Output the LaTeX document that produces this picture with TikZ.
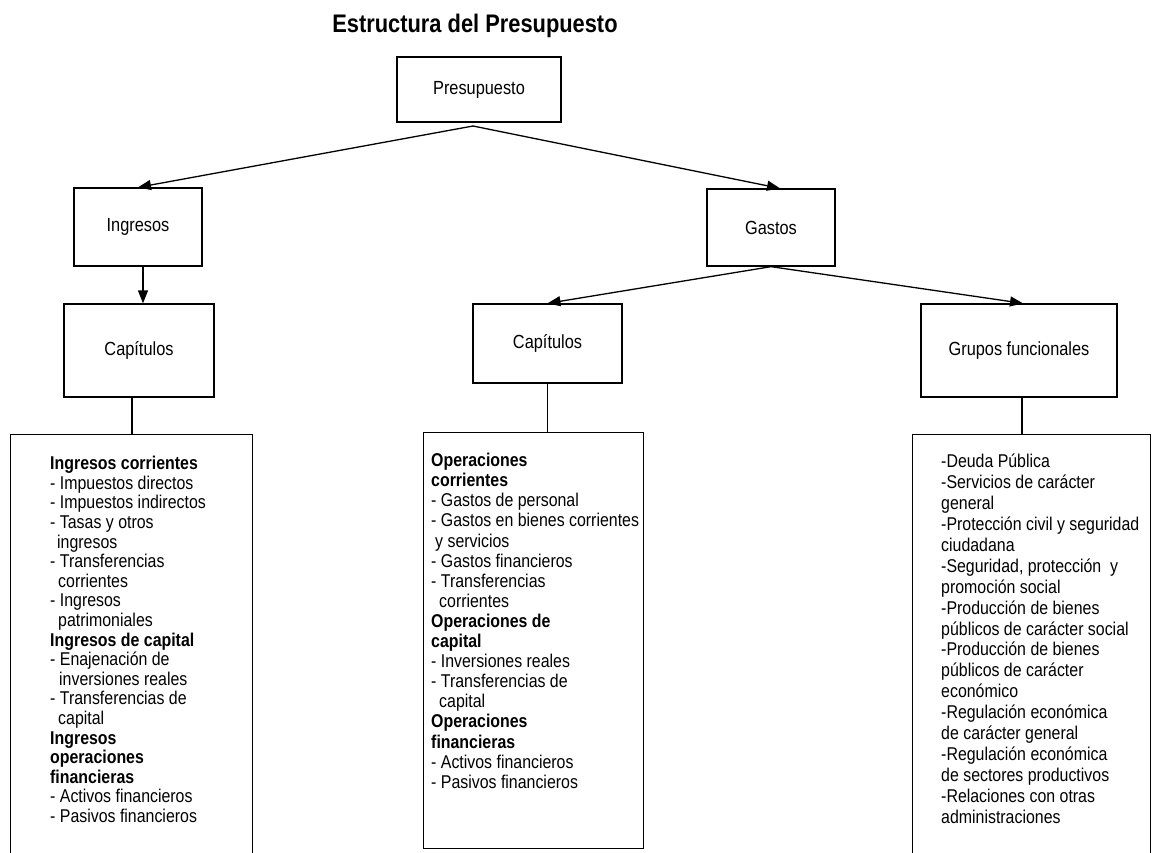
\documentclass[tikz,border=0pt]{standalone}
\usepackage{fontspec}
\setmainfont[FakeStretch=0.86]{Liberation Sans}
\usetikzlibrary{arrows.meta}
\begin{document}
\begin{tikzpicture}[x=1pt,y=-1pt,
  bx/.style={draw, line width=1.3pt, inner sep=0pt, font=\fontsize{19}{22}\selectfont},
  conn/.style={line width=1.3pt},
  arr/.style={conn, -{Triangle[length=13pt,width=10pt]}},
  lstbox/.style={draw, line width=1.3pt, anchor=north west, inner sep=0pt},
  lst/.style={anchor=north west, inner sep=0pt, align=left}]
\useasboundingbox (0,0) rectangle (1158,852);

\node[anchor=base, font=\fontsize{25.4}{29}\bfseries\selectfont] (title) at (475,32) {Estructura del Presupuesto};

\node[bx, minimum width=164pt, minimum height=65pt] (pres) at (479,89.5) {Presupuesto};
\node[bx, minimum width=128pt, minimum height=78pt] (ing) at (138,227) {Ingresos};
\node[bx, minimum width=128pt, minimum height=77pt] (gas) at (771,227.5) {Gastos};
\node[bx, minimum width=150pt, minimum height=93pt] (cap1) at (139,350.5) {Capítulos};
\node[bx, minimum width=149pt, minimum height=79pt] (cap2) at (547.5,343.5) {Capítulos};
\node[bx, minimum width=196pt, minimum height=93pt] (grp) at (1019,350.5) {Grupos funcionales};

\node[lstbox, minimum width=242pt, minimum height=470pt] (b1) at (10,434) {};
\node[lstbox, minimum width=220pt, minimum height=416pt] (b2) at (423,432) {};
\node[lstbox, minimum width=238pt, minimum height=470pt] (b3) at (912,434) {};

\coordinate (p0) at (473,126);
\draw[arr] (p0) -- (ing.north);
\draw[arr] (p0) -- ([xshift=9pt]gas.north);
\draw[arr] ([xshift=5pt]ing.south) -- ([xshift=5pt]ing.south |- cap1.north);
\draw[arr] (gas.south) -- (cap2.north);
\draw[arr] (gas.south) -- ([xshift=4pt]grp.north);
\draw[conn] ([xshift=-7pt]cap1.south) -- ([xshift=-7pt]cap1.south |- b1.north);
\draw[conn] (cap2.south) -- (cap2.south |- b2.north);
\draw[conn] ([xshift=3pt]grp.south) -- ([xshift=3pt]grp.south |- b3.north);

\node[lst, font=\fontsize{18.5}{19.6}\selectfont] (t1) at (50,456) {%
\textbf{Ingresos corrientes}\\
- Impuestos directos\\
- Impuestos indirectos\\
- Tasas y otros\\
\hspace*{7pt}ingresos\\
- Transferencias\\
\hspace*{8pt}corrientes\\
- Ingresos\\
\hspace*{8pt}patrimoniales\\
\textbf{Ingresos de capital}\\
- Enajenación de\\
\hspace*{9pt}inversiones reales\\
- Transferencias de\\
\hspace*{8pt}capital\\
\textbf{Ingresos}\\
\textbf{operaciones}\\
\textbf{financieras}\\
- Activos financieros\\
- Pasivos financieros};

\node[lst, font=\fontsize{18.5}{20.1}\selectfont] (t2) at (431,453) {%
\textbf{Operaciones}\\
\textbf{corrientes}\\
- Gastos de personal\\
- Gastos en bienes corrientes\\
\hspace*{4pt}y servicios\\
- Gastos financieros\\
- Transferencias\\
\hspace*{8pt}corrientes\\
\textbf{Operaciones de}\\
\textbf{capital}\\
- Inversiones reales\\
- Transferencias de\\
\hspace*{8pt}capital\\
\textbf{Operaciones}\\
\textbf{financieras}\\
- Activos financieros\\
- Pasivos financieros};

\node[lst, font=\fontsize{18.5}{20.9}\selectfont] (t3) at (941,454) {%
-Deuda Pública\\
-Servicios de carácter\\
general\\
-Protección civil y seguridad\\
ciudadana\\
-Seguridad, protección\ \ y\\
promoción social\\
-Producción de bienes\\
públicos de carácter social\\
-Producción de bienes\\
públicos de carácter\\
económico\\
-Regulación económica\\
de carácter general\\
-Regulación económica\\
de sectores productivos\\
-Relaciones con otras\\
administraciones};
\end{tikzpicture}
\end{document}
